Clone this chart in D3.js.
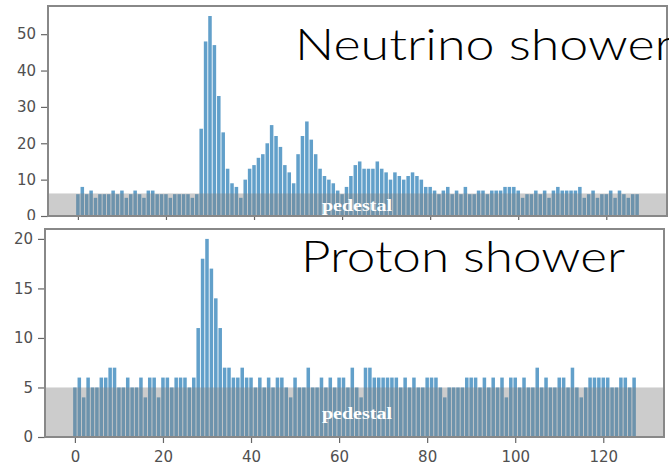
<!DOCTYPE html>
<html><head><meta charset="utf-8">
<script src="https://cdn.jsdelivr.net/npm/d3@7"></script>
<style>html,body{margin:0;padding:0;background:#fff}svg{display:block}</style>
</head><body>
<svg id="chart" width="669" height="470"></svg>
<script>
// ---- data ----
const channels = d3.range(128);
const neutrinoValues = [
 6,8,6,7,5,6,6,6,7,6,7,5,6,7,6,5,7,7,6,6,6,5,6,6,6,6,5,6,
 24,48,55,47,33,23,13,9,8,
 5,10,13,14,16,17,20,25,22,19,14,12,9,17,22,26,21,17,13,11,10,9,7,6,8,11,14,15,13,
 13,13,15,13,12,10,12,11,10,11,12,11,10,8,8,7,6,7,8,6,7,6,8,6,6,7,7,6,7,7,7,
 8,8,8,7,5,6,6,7,6,7,5,7,8,7,7,7,7,8,5,6,7,5,6,6,7,5,7,6,5,6,6
];
const protonValues = [
 5,6,4,6,5,5,6,6,7,7,5,5,6,5,5,6,4,6,6,4,6,6,5,6,6,6,5,6,
 11,18,20,17,14,11,7,7,6,6,7,6,6,5,6,5,6,5,6,6,5,4,6,5,5,7,5,5,6,5,6,5,6,6,5,7,5,4,
 7,7,6,6,6,6,6,6,5,6,5,6,5,5,6,6,6,5,4,5,5,5,5,6,6,6,5,6,5,6,5,6,4,6,6,5,6,5,5,7,
 5,6,5,5,6,6,5,7,5,4,5,6,6,6,6,6,5,5,6,6,5,6
];
const neutrinoPedestal = 6.2;
const protonPedestal = 5;
const xTicks = [0,20,40,60,80,100,120];
const neutrinoYTicks = [0,10,20,30,40,50];
const protonYTicks = [0,5,10,15,20];
const titles = ["Neutrino shower", "Proton shower"];
const pedestalLabel = "pedestal";

const svg = d3.select("#chart");
svg.append("rect").attr("width",669).attr("height",470).attr("fill","#fff");

const defs = svg.append("defs");
defs.append("clipPath").attr("id","topClip").append("rect")
  .attr("x",0).attr("y",0).attr("width",669).attr("height",220);

function panel(cfg){
  const g = svg.append("g");
  if (cfg.clip) g.attr("clip-path","url(#"+cfg.clip+")");
  const x = d3.scaleLinear().domain([-6.79,133.79]).range([cfg.left,cfg.right]);
  const y = d3.scaleLinear().domain([0,cfg.ymax]).range([cfg.bottom,cfg.top]);
  const bw = x(0.8)-x(0);
  g.append("g").selectAll("rect").data(cfg.values).join("rect")
    .attr("x",(d,i)=>x(channels[i]-0.4))
    .attr("width",bw)
    .attr("y",d=>y(d))
    .attr("height",d=>y(0)-y(d))
    .attr("fill","#1f77b4").attr("fill-opacity",0.7);
  // pedestal band drawn over the bars
  g.append("rect").attr("x",cfg.left).attr("width",cfg.right-cfg.left)
    .attr("y",y(cfg.pedestal)).attr("height",y(0)-y(cfg.pedestal))
    .attr("fill","#808080").attr("fill-opacity",0.4);
  g.append("text").attr("x",357).attr("y",cfg.pedY)
    .attr("text-anchor","middle")
    .attr("font-family","'Liberation Serif','DejaVu Serif',serif")
    .attr("font-size",17).attr("font-weight","bold").attr("fill","#fff")
    .attr("textLength",70).attr("lengthAdjust","spacingAndGlyphs")
    .text(pedestalLabel);
  // axes
  const ya = g.append("g").attr("transform",`translate(${cfg.left},0)`)
    .call(d3.axisLeft(y).tickValues(cfg.yTicks).tickSize(7).tickPadding(5));
  const xa = g.append("g").attr("transform",`translate(0,${cfg.bottom})`)
    .call(d3.axisBottom(x).tickValues(xTicks).tickSize(cfg.showX?6:4).tickPadding(8)
      .tickFormat(cfg.showX?d3.format("d"):()=>""));
  [ya,xa].forEach(a=>{
    a.select(".domain").remove();
    a.selectAll(".tick line").attr("stroke","#666").attr("stroke-width",1.2);
    a.selectAll(".tick text").attr("fill","#505050")
      .attr("font-family","'DejaVu Sans',sans-serif").attr("font-size",15);
  });
  // frame
  g.append("rect").attr("x",cfg.left).attr("y",cfg.top)
    .attr("width",cfg.right-cfg.left).attr("height",cfg.bottom-cfg.top)
    .attr("fill","none").attr("stroke","#888").attr("stroke-width",2);
  // title
  g.append("text").attr("x",cfg.titleX).attr("y",cfg.titleY)
    .attr("font-family","Lato,'Noto Sans',sans-serif").attr("font-weight",300)
    .attr("font-size",44).attr("fill","#000")
    .attr("textLength",cfg.titleW).attr("lengthAdjust","spacingAndGlyphs")
    .text(cfg.title);
}

panel({values:neutrinoValues,pedestal:neutrinoPedestal,ymax:57.75,yTicks:neutrinoYTicks,
  left:48,right:667,top:6,bottom:216,showX:false,clip:"topClip",pedY:211,
  title:titles[0],titleX:295,titleY:60,titleW:378});
panel({values:protonValues,pedestal:protonPedestal,ymax:21,yTicks:protonYTicks,
  left:45,right:664,top:229,bottom:437,showX:true,pedY:419,
  title:titles[1],titleX:301,titleY:272,titleW:324});
</script>
</body></html>
